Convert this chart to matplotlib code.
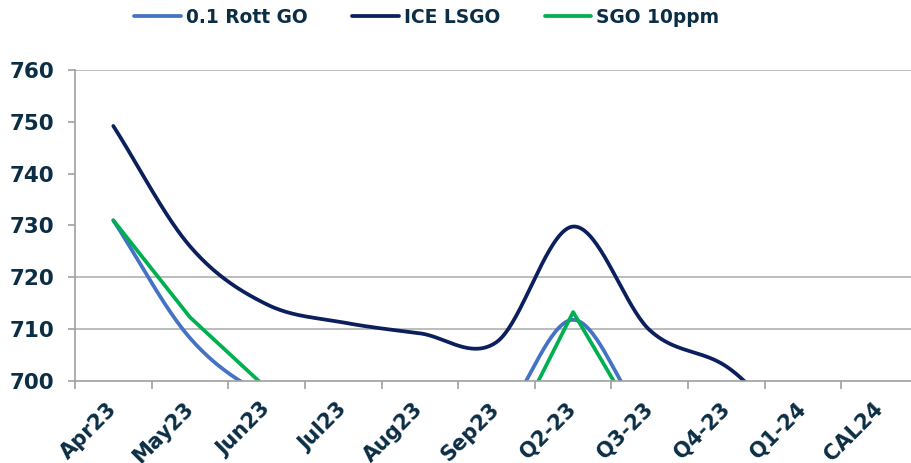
import numpy as np
import matplotlib.pyplot as plt
import matplotlib.transforms as mtransforms

categories = ['Apr23', 'May23', 'Jun23', 'Jul23', 'Aug23', 'Sep23',
              'Q2-23', 'Q3-23', 'Q4-23', 'Q1-24', 'CAL24']
rott_go = [731.0, 708.3, 697.0, 692.0, 692.0, 692.0, 711.8, 692.0, 690.0, 689.0, 688.0]
ice_lsgo = [749.2, 726.0, 714.8, 711.3, 709.2, 707.5, 729.8, 709.8, 702.8, 690.0, 688.0]
sgo_10ppm = [731.0, 712.3, 698.6, 694.0, 690.0, 684.0, 713.3, 688.2, 686.0, 685.0, 684.0]
grid_levels = [710, 720, 760]

text_col = '#0B2E45'


def smooth(y, n=40):
    # Excel-style smoothed line (Catmull-Rom bezier)
    y = np.asarray(y, dtype=float)
    x = np.arange(len(y), dtype=float)
    xs, ys = [], []
    last = len(y) - 1
    for i in range(last):
        m0 = (y[i + 1] - y[i - 1]) / 2 if i > 0 else (y[1] - y[0])
        m1 = (y[i + 2] - y[i]) / 2 if i + 2 <= last else (y[last] - y[last - 1])
        t = np.linspace(0, 1, n)
        h00 = 2 * t**3 - 3 * t**2 + 1
        h10 = t**3 - 2 * t**2 + t
        h01 = -2 * t**3 + 3 * t**2
        h11 = t**3 - t**2
        xs.append(x[i] + t)
        ys.append(h00 * y[i] + h10 * m0 + h01 * y[i + 1] + h11 * m1)
    return np.concatenate(xs), np.concatenate(ys)


fig = plt.figure(figsize=(9.12, 4.63), dpi=100)
ax = fig.add_axes([75 / 912, 82 / 463, 843 / 912, 311 / 463])

for g in grid_levels:
    ax.axhline(g, color='#B0B0B0', lw=1.2, zorder=0)

xs, ys = smooth(rott_go)
ax.plot(xs, ys, color='#4472C4', lw=2.7, label='0.1 Rott GO', solid_capstyle='round')
xs, ys = smooth(ice_lsgo)
ax.plot(xs, ys, color='#0A1F5C', lw=2.7, label='ICE LSGO', solid_capstyle='round')
ax.plot(np.arange(len(sgo_10ppm)), sgo_10ppm, color='#00B050', lw=2.7,
        label='SGO 10ppm', solid_capstyle='round')

ax.set_xlim(-0.5, len(categories) - 0.5)
ax.set_ylim(700, 760)
ax.set_yticks(np.arange(700, 761, 10))

ax.set_xticks(np.arange(-0.5, len(categories), 1))
ax.set_xticklabels([])
ax.set_xticks(np.arange(len(categories)), minor=True)
ax.set_xticklabels(categories, minor=True, rotation=45, ha='right',
                   rotation_mode='anchor', fontsize=15, fontweight='bold', color=text_col)
ax.tick_params(axis='x', which='major', length=6, color='#A0A0A0', width=1.2)
ax.tick_params(axis='x', which='minor', length=0, pad=13)
ax.tick_params(axis='y', length=5, color='#A0A0A0', width=1.2, pad=10,
               labelsize=15.5, labelcolor=text_col)
for lab in ax.get_yticklabels():
    lab.set_fontweight('bold')
shift = mtransforms.ScaledTranslation(-0.07, 0, fig.dpi_scale_trans)
for lab in ax.xaxis.get_minorticklabels():
    lab.set_transform(lab.get_transform() + shift)

for s in ['top', 'right']:
    ax.spines[s].set_visible(False)
ax.spines['left'].set_color('#A0A0A0')
ax.spines['bottom'].set_color('#A0A0A0')
ax.spines['left'].set_linewidth(1.2)
ax.spines['bottom'].set_linewidth(1.2)

leg = fig.legend(loc='center', bbox_to_anchor=(0.468, 0.963), ncol=3, frameon=False,
                 prop={'weight': 'bold', 'size': 13.4}, handlelength=2.5, columnspacing=2.4,
                 handletextpad=0.27)
for t in leg.get_texts():
    t.set_color(text_col)

fig.savefig('out.png', dpi=100)
